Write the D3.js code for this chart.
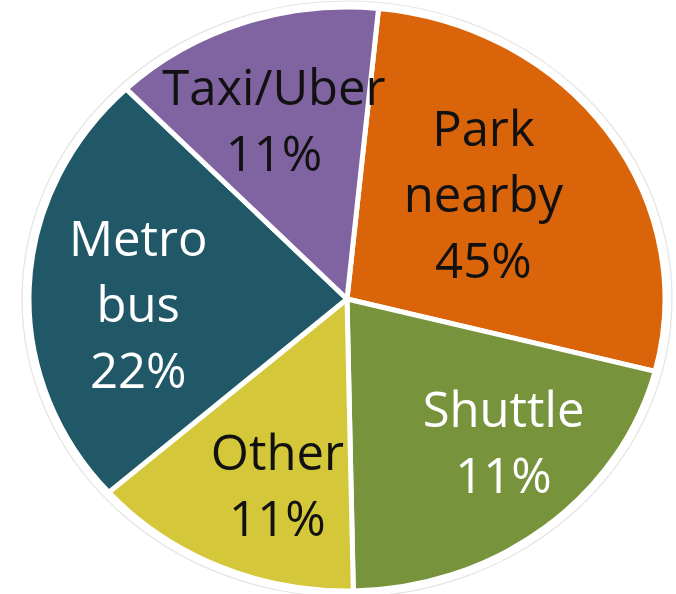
<!DOCTYPE html>
<html>
<head>
<meta charset="utf-8">
<script src="https://cdn.jsdelivr.net/npm/d3@7"></script>
<style>
  body { margin: 0; background: #fff; }
  svg text { font-family: "Open Sans", sans-serif; }
</style>
</head>
<body>
<div id="chart"></div>
<script>
// slice shares as drawn, and the printed labels
var categories = ["Park nearby", "Shuttle", "Other", "Metro bus", "Taxi/Uber"];
var shares = [27.4, 20.7, 13.8, 24.3, 13.8];
var labelLines = [["Park", "nearby", "45%"], ["Shuttle", "11%"], ["Other", "11%"], ["Metro", "bus", "22%"], ["Taxi/Uber", "11%"]];
var colours = ["#D9640A", "#77933C", "#D4C83A", "#215867", "#8064A2"];
var textColours = ["#111", "#fff", "#111", "#fff", "#111"];

(function() {
    var width = 676,
        height = 594,
        cx = 347,
        cy = 299,
        rx = 318,
        ry = 292;

    var svg = d3.select("#chart")
        .append("svg")
        .attr("width", width)
        .attr("height", height);

    // faint outline around the pie
    svg.append("ellipse")
        .attr("cx", cx).attr("cy", cy)
        .attr("rx", rx + 7).attr("ry", ry + 6)
        .attr("fill", "none")
        .attr("stroke", "#e4e4e4")
        .attr("stroke-width", 1.2);

    var pie = d3.pie()
        .sort(null)
        .value(function(d) { return d; })
        .startAngle(5.7 * Math.PI / 180)
        .endAngle((5.7 + 360) * Math.PI / 180);

    var arcs = pie(shares);

    var arc = d3.arc().innerRadius(0).outerRadius(rx);

    var g = svg.append("g")
        .attr("transform", "translate(" + cx + "," + cy + ") scale(1," + (ry / rx) + ")");

    g.selectAll(".slice")
        .data(arcs)
        .enter().append("path")
        .attr("class", "slice")
        .attr("d", arc)
        .attr("fill", function(d, i) { return colours[i]; })
        .attr("stroke", "#fff")
        .attr("stroke-width", 5)
        .attr("stroke-linejoin", "round")
        .attr("vector-effect", "non-scaling-stroke");

    // where each label sits: fraction of the radius and a nudge of the angle (degrees)
    var labelRadius = [0.53, 0.73, 0.72, 0.66, 0.61];
    var labelTurn = [-1, -4, -6, -8, -3];
    var lineGap = 66;

    var labels = svg.selectAll(".label")
        .data(arcs)
        .enter().append("text")
        .attr("class", "label")
        .attr("text-anchor", "middle")
        .style("font-size", "49px")
        .attr("fill", function(d, i) { return textColours[i]; })
        .attr("transform", function(d, i) {
            var a = (d.startAngle + d.endAngle) / 2 + labelTurn[i] * Math.PI / 180;
            var x = cx + Math.sin(a) * rx * labelRadius[i];
            var y = cy - Math.cos(a) * ry * labelRadius[i];
            return "translate(" + x + "," + y + ")";
        });

    labels.each(function(d, i) {
        var lines = labelLines[i];
        var t = d3.select(this);
        lines.forEach(function(s, k) {
            t.append("tspan")
                .attr("x", 0)
                .attr("y", (k - (lines.length - 1) / 2) * lineGap + 4)
                .text(s);
        });
    });
})();
</script>
</body>
</html>
